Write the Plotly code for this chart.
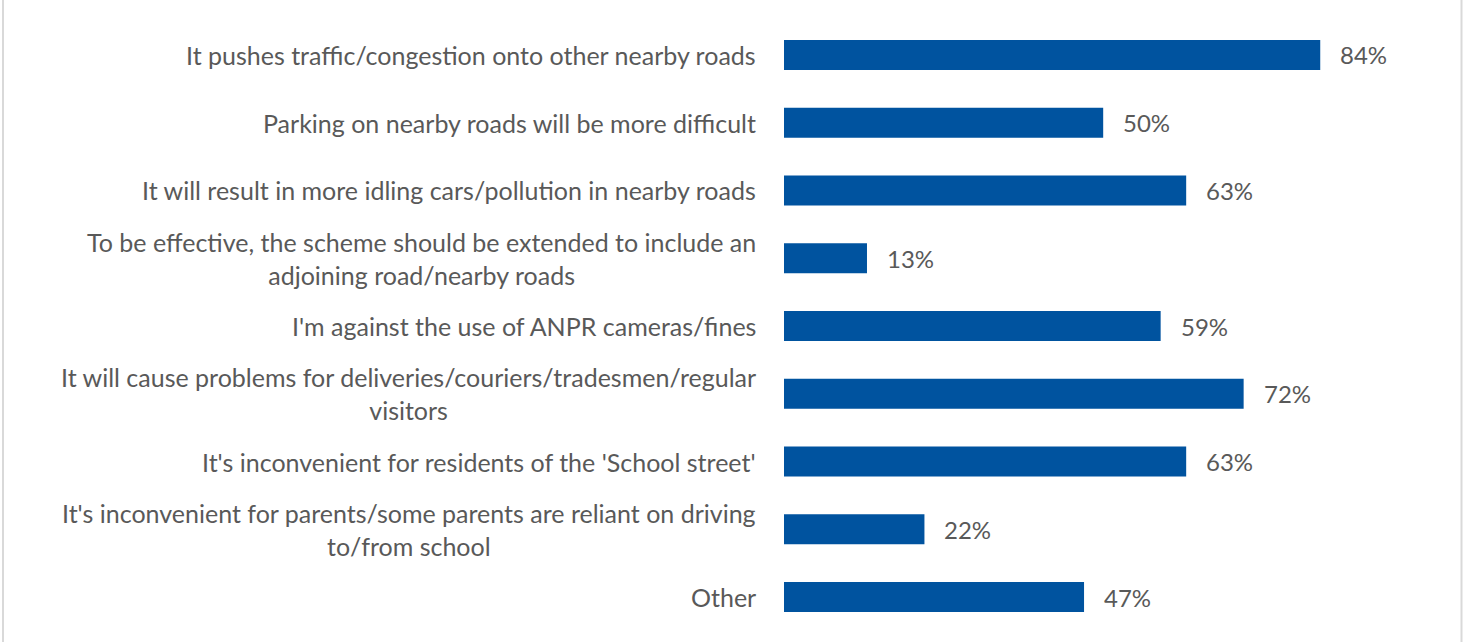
import plotly.graph_objects as go

categories = [
    "It pushes traffic/congestion onto other nearby roads",
    "Parking on nearby roads will be more difficult",
    "It will result in more idling cars/pollution in nearby roads",
    "To be effective, the scheme should be extended to include an<br>adjoining road/nearby roads",
    "I'm against the use of ANPR cameras/fines",
    "It will cause problems for deliveries/couriers/tradesmen/regular<br>visitors",
    "It's inconvenient for residents of the 'School street'",
    "It's inconvenient for parents/some parents are reliant on driving<br>to/from school",
    "Other",
]
values = [84, 50, 63, 13, 59, 72, 63, 22, 47]
value_labels = ["84%", "50%", "63%", "13%", "59%", "72%", "63%", "22%", "47%"]

W, H = 1463, 642
L, R, T, B = 784, 47, 21, 11
plot_w = W - L - R

BAR = "#00539F"
TXT = "#595959"
FONT = "Lato"

fig = go.Figure(go.Bar(
    x=values, y=list(range(len(categories))), orientation="h",
    marker=dict(color=BAR, line=dict(width=0)),
    hoverinfo="skip",
))

ann = []
for i, (c, v, t) in enumerate(zip(categories, values, value_labels)):
    ann.append(dict(x=0, y=i, xref="paper", yref="y", text=c, showarrow=False,
                    xanchor="right", yanchor="middle", align="center", xshift=-26,
                    font=dict(family=FONT, size=25, color=TXT)))
    ann.append(dict(x=v, y=i, xref="x", yref="y", text=t, showarrow=False,
                    xanchor="left", yanchor="middle", xshift=18,
                    font=dict(family=FONT, size=24, color=TXT)))

shapes = []
for px in (3, 1461.5):
    xp = (px - L) / plot_w
    shapes.append(dict(type="line", xref="paper", yref="paper", x0=xp, x1=xp,
                       y0=-1, y1=2, line=dict(color="#D9D9D9", width=2)))

fig.update_layout(
    width=W, height=H,
    margin=dict(l=L, r=R, t=T, b=B, pad=0),
    paper_bgcolor="white", plot_bgcolor="white",
    bargap=0.557,
    showlegend=False,
    xaxis=dict(range=[0, 99.0], visible=False, fixedrange=True),
    yaxis=dict(range=[8.5, -0.5], visible=False, fixedrange=True),
    annotations=ann,
    shapes=shapes,
)

fig.write_html("out.html", config={"displayModeBar": False},
               post_script="document.body.style.margin='0';document.body.style.overflow='hidden';")
